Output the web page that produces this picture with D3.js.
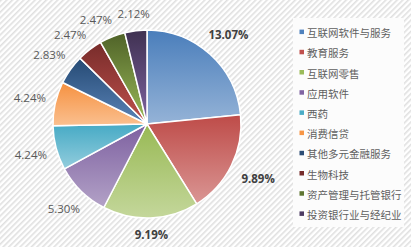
<!DOCTYPE html>
<html>
<head>
<meta charset="utf-8">
<script src="https://cdn.jsdelivr.net/npm/d3@7"></script>
<style>
  body { margin: 0; padding: 0; background: #fff; }
  svg { display: block; }
</style>
</head>
<body>
<div id="chart"></div>
<script>
// data
var categories = ["互联网软件与服务", "教育服务", "互联网零售", "应用软件", "西药",
                  "消费信贷", "其他多元金融服务", "生物科技", "资产管理与托管银行", "投资银行业与经纪业"];
var values = [13.07, 9.89, 9.19, 5.30, 4.24, 4.24, 2.83, 2.47, 2.47, 2.12];
var boldLabels = [true, true, true, false, false, false, false, false, false, false];
var topColors = ["#4a7ebb", "#be4b48", "#98b954", "#7d60a0", "#46aac5", "#f69140", "#254a74", "#772c2a", "#4f6228", "#3f3151"];
var bottomColors = ["#95b3d7", "#da9694", "#c4d79b", "#b3a2c7", "#93cddd", "#fac090", "#5b84b8", "#c0504d", "#9bbb59", "#8064a2"];
var legendColors = ["#4f81bd", "#c0504d", "#9bbb59", "#8064a2", "#4bacc6", "#f79646", "#2c4d75", "#772c2a", "#5f7530", "#4d3b62"];

var width = 411, height = 247;
var cx = 147, cy = 124, radius = 94;

var svg = d3.select("#chart").append("svg")
    .attr("width", width)
    .attr("height", height);

var defs = svg.append("defs");

// striped background
var pat = defs.append("pattern")
    .attr("id", "stripes")
    .attr("patternUnits", "userSpaceOnUse")
    .attr("width", 4).attr("height", 4)
    .attr("patternTransform", "rotate(45)");
pat.append("rect").attr("width", 4).attr("height", 4).attr("fill", "#ffffff");
pat.append("rect").attr("width", 1.6).attr("height", 4).attr("fill", "#e0e0e0");

svg.append("rect")
    .attr("width", width).attr("height", height)
    .attr("fill", "url(#stripes)");

// gradients for each slice
categories.forEach(function(c, i) {
    var g = defs.append("linearGradient")
        .attr("id", "grad" + i)
        .attr("x1", 0).attr("y1", 0).attr("x2", 0).attr("y2", 1);
    g.append("stop").attr("offset", "0%").attr("stop-color", topColors[i]);
    g.append("stop").attr("offset", "100%").attr("stop-color", bottomColors[i]);
});

var pieData = categories.map(function(c, i) { return {name: c, value: values[i], idx: i}; });

var pie = d3.pie()
    .sort(null)
    .value(function(d) { return d.value; });

var arc = d3.arc().innerRadius(0).outerRadius(radius);

var arcs = pie(pieData);

var g = svg.append("g").attr("transform", "translate(" + cx + "," + cy + ")");

g.selectAll("path.slice")
    .data(arcs)
    .enter()
    .append("path")
    .attr("class", "slice")
    .attr("d", arc)
    .attr("fill", function(d) { return "url(#grad" + d.data.idx + ")"; })
    .attr("stroke", "#ffffff")
    .attr("stroke-width", 1.5)
    .attr("stroke-linejoin", "round");

// label placement: outside the pie, nudged counter-clockwise when they collide
var hw = 16, hh = 6.5;
function labelPos(a, halfW) {
    var s = Math.sin(a), c = Math.cos(a);
    var r = radius + 9 + Math.abs(s) * halfW + Math.abs(c) * hh;
    return [s * r, -c * r];
}
var placed = [];
var labelXY = {};
for (var k = arcs.length - 1; k >= 0; k--) {
    var d = arcs[k];
    var halfW = boldLabels[d.data.idx] ? 20 : hw;
    var a = (d.startAngle + d.endAngle) / 2;
    var p = labelPos(a, halfW);
    var tries = 0;
    while (tries < 60 && placed.some(function(q) {
        return Math.abs(q.x - p[0]) < q.hw + halfW + 5 && Math.abs(q.y - p[1]) < 2 * hh + 1;
    })) {
        a -= Math.PI / 360;
        p = labelPos(a, halfW);
        tries++;
    }
    placed.push({x: p[0], y: p[1], hw: halfW});
    labelXY[d.data.idx] = p;
}

var fontFam = "'Open Sans', 'Noto Sans', sans-serif";
g.selectAll("text.lbl")
    .data(arcs)
    .enter()
    .append("text")
    .attr("class", "lbl")
    .attr("text-anchor", "middle")
    .attr("dominant-baseline", "central")
    .attr("font-family", fontFam)
    .attr("font-size", "11.5px")
    .attr("font-weight", function(d) { return boldLabels[d.data.idx] ? "bold" : "normal"; })
    .attr("fill", function(d) { return boldLabels[d.data.idx] ? "#404040" : "#595959"; })
    .attr("transform", function(d) {
        var p = labelXY[d.data.idx];
        return "translate(" + p[0] + "," + p[1] + ")";
    })
    .text(function(d) { return d.data.value.toFixed(2) + "%"; });

// legend
svg.append("rect")
    .attr("x", 293).attr("y", 18)
    .attr("width", 111).attr("height", 209)
    .attr("fill", "#fcfcfc");

var legend = svg.append("g").attr("class", "legend");
var rowY = d3.scaleBand()
    .domain(categories)
    .range([22, 224]);

var items = legend.selectAll("g.item")
    .data(categories)
    .enter()
    .append("g")
    .attr("class", "item")
    .attr("transform", function(d) { return "translate(0," + (rowY(d) + rowY.bandwidth() / 2) + ")"; });

items.append("rect")
    .attr("x", 299.5).attr("y", -2.5)
    .attr("width", 4.5).attr("height", 4.5)
    .attr("fill", function(d, i) { return legendColors[i]; });

items.append("text")
    .attr("x", 307)
    .attr("y", 0.5)
    .attr("dominant-baseline", "central")
    .attr("font-family", "'Noto Sans CJK SC', sans-serif")
    .attr("font-size", "10.5px")
    .attr("fill", "#5f5f5f")
    .text(function(d) { return d; });
</script>
</body>
</html>
